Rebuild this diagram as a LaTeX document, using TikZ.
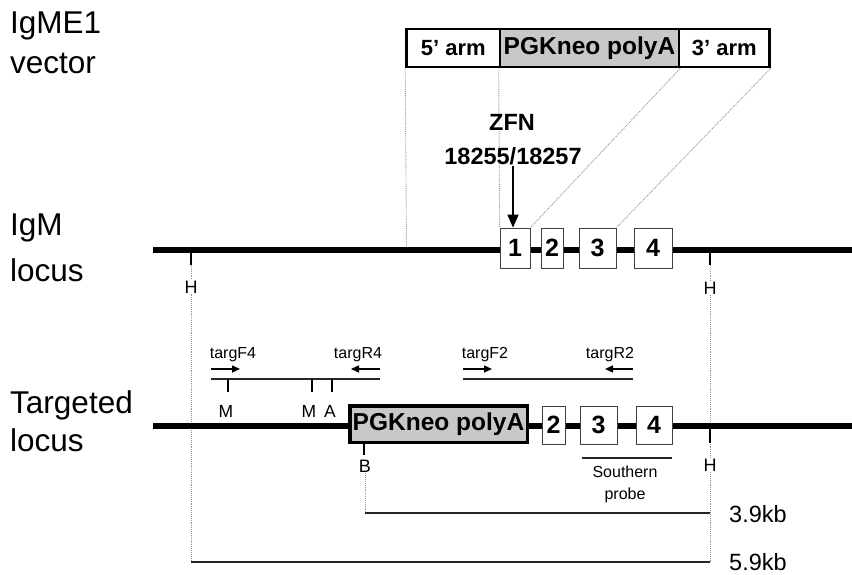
\documentclass[tikz,border=0pt]{standalone}
\usepackage{fontspec}
\setmainfont{Liberation Sans}
\usetikzlibrary{arrows.meta}
\definecolor{boxgray}{RGB}{200,200,200}
\definecolor{dotgray}{RGB}{150,150,150}
\tikzset{
  biglbl/.style={font=\fontsize{31.5}{34}\selectfont, anchor=base west, inner sep=0pt},
  boldlbl/.style={font=\fontsize{23.5}{26}\bfseries\selectfont, inner sep=0pt},
  smalllbl/.style={font=\fontsize{16}{18}\selectfont, inner sep=0pt},
  sitelbl/.style={font=\fontsize{18}{20}\selectfont, inner sep=1pt, fill=white},
  kblbl/.style={font=\fontsize{23.5}{26}\selectfont, inner sep=0pt, anchor=base west},
  locus/.style={line width=6pt},
  vecbox/.style={draw, line width=2.6pt, minimum height=38pt, inner sep=0pt, font=\fontsize{22}{24}\bfseries\selectfont},
  exon/.style={draw=black!75, line width=0.8pt, fill=white, inner sep=0pt, font=\fontsize{25}{28}\bfseries\selectfont},
  dotline/.style={dotgray, line width=0.9pt, densely dotted},
  tick/.style={line width=1.6pt},
  thinline/.style={line width=1.4pt, black!85},
  primer/.style={line width=1.3pt, -{Triangle[length=8pt,width=7pt]}},
  zfnarrow/.style={line width=1.6pt, -{Triangle[length=13pt,width=11pt]}}
}
\begin{document}
\begin{tikzpicture}[x=1pt,y=-1pt]
\useasboundingbox (0,0) rectangle (852,575);

% ---------- left labels ----------
\node[biglbl] (t1) at (10,34) {IgME1};
\node[biglbl] (t2) at (10,74) {vector};
\node[biglbl] (t3) at (10,236) {IgM};
\node[biglbl] (t4) at (10,281) {locus};
\node[biglbl] (t5) at (10,413) {Targeted};
\node[biglbl] (t6) at (10,451) {locus};

% ---------- vector ----------
\node[vecbox, minimum width=93.5pt] (arm5) at (453.25,48) {5’ arm};
\node[vecbox, minimum width=179pt, fill=boxgray, font=\fontsize{24.5}{27}\bfseries\selectfont] (pgk) at (589.5,48) {PGKneo polyA};
\node[vecbox, minimum width=90.5pt] (arm3) at (724.25,48) {3’ arm};

% ---------- IgM locus ----------
\coordinate (ia) at (153,249.5);
\coordinate (ib) at (852,249.5);
\draw[locus] (ia) -- (ib);
\node[exon, minimum width=30pt, minimum height=40pt] (e1) at (515,248) {1};
\node[exon, minimum width=22pt, minimum height=40pt] (e2) at (552,248) {2};
\node[exon, minimum width=37pt, minimum height=40pt] (e3) at (597.5,248) {3};
\node[exon, minimum width=38pt, minimum height=40pt] (e4) at (653,248) {4};

% dotted mapping lines
\coordinate (m5) at (406.5,247);
\draw[dotline] (arm5.south west) -- (m5);
\draw[dotline] (pgk.south west) -- (e1.north west);
\draw[dotline] (pgk.south east) -- (e1.north east);
\draw[dotline] (arm3.south east) -- (e3.north east);

% ZFN
\node[boldlbl, anchor=base] (zfn1) at (512,131) {ZFN};
\node[boldlbl, anchor=base] (zfn2) at (513,165) {18255/18257};
\draw[zfnarrow] (zfn2.south) -- (zfn2.south |- e1.north);

% H sites on IgM
\coordinate (h1t) at (191,252);
\coordinate (h1b) at (191,265);
\coordinate (h2t) at (710,252);
\coordinate (h2b) at (710,265);
\draw[tick] (h1t) -- (h1b);
\draw[tick] (h2t) -- (h2b);
\coordinate (h1e) at (191,562);
\coordinate (h2e) at (710,562);
\draw[dotline] (h1b) -- (h1e);
\draw[dotline] (h2b) -- (h2e);
\node[sitelbl] (hl1) at (191,287) {H};
\node[sitelbl] (hl2) at (710,288) {H};

% ---------- targeted locus ----------
\coordinate (ta) at (153,426);
\coordinate (tb) at (852,426);
\draw[locus] (ta) -- (tb);
\node[draw, line width=3.5pt, fill=boxgray, minimum width=177.5pt, minimum height=36.5pt, inner sep=0pt,
      font=\fontsize{24.5}{27}\bfseries\selectfont] (tpgk) at (438.5,424) {PGKneo polyA};
\node[exon, minimum width=23pt, minimum height=38pt] (f2) at (553.5,425) {2};
\node[exon, minimum width=37pt, minimum height=38pt] (f3) at (598.5,425) {3};
\node[exon, minimum width=36pt, minimum height=38pt] (f4) at (654,425) {4};

% H on targeted
\coordinate (h3t) at (710,429);
\coordinate (h3b) at (710,443);
\draw[tick] (h3t) -- (h3b);
\node[sitelbl] (hl3) at (710,465) {H};

% B site
\coordinate (bb) at (364,455);
\draw[tick] (tpgk.south -| bb) -- (bb);
\node[sitelbl] (bl) at (365,466) {B};
\coordinate (b39) at (365,513);
\draw[dotline] (bl.south) -- (b39);

% Southern probe
\coordinate (sp1) at (582,458);
\coordinate (sp2) at (672,458);
\draw[thinline, line width=1.2pt] (sp1) -- (sp2);
\node[smalllbl, anchor=base] (sp) at (625,477) {Southern};
\node[smalllbl, anchor=base] (pr) at (625,499) {probe};

% fragments
\coordinate (k39e) at (710,513);
\draw[thinline] (b39) -- (k39e);
\node[kblbl] (k39) at (729,522) {3.9kb};
\draw[thinline] (h1e) -- (h2e);
\node[kblbl] (k59) at (729,570) {5.9kb};

% ---------- primers ----------
\coordinate (pl1) at (211,379);
\coordinate (pl2) at (380,379);
\draw[thinline] (pl1) -- (pl2);
\coordinate (pr1) at (463,379);
\coordinate (pr2) at (633,379);
\draw[thinline] (pr1) -- (pr2);

% restriction ticks on amplicon
\coordinate (mt1) at (228,379); \coordinate (mb1) at (228,392);
\coordinate (mt2) at (312,379); \coordinate (mb2) at (312,392);
\coordinate (mt3) at (332,379); \coordinate (mb3) at (332,392);
\draw[tick] (mt1) -- (mb1);
\draw[tick] (mt2) -- (mb2);
\draw[tick] (mt3) -- (mb3);
\node[sitelbl, fill=none, font=\fontsize{17.5}{20}\selectfont] (ml1) at (226,411) {M};
\node[sitelbl, fill=none, font=\fontsize{17.5}{20}\selectfont] (ml2) at (309,411) {M};
\node[sitelbl, fill=none, font=\fontsize{17.5}{20}\selectfont] (al1) at (330,411) {A};

% primer labels and arrows
\node[smalllbl, anchor=base] (f4l) at (233,358) {targF4};
\node[smalllbl, anchor=base] (r4l) at (358,358) {targR4};
\node[smalllbl, anchor=base] (f2l) at (485,358) {targF2};
\node[smalllbl, anchor=base] (r2l) at (610,358) {targR2};
\coordinate (af4a) at (211,369); \coordinate (af4b) at (240,369);
\coordinate (ar4a) at (380,369); \coordinate (ar4b) at (351,369);
\coordinate (af2a) at (463,369); \coordinate (af2b) at (492,369);
\coordinate (ar2a) at (633,369); \coordinate (ar2b) at (605,369);
\draw[primer] (af4a) -- (af4b);
\draw[primer] (ar4a) -- (ar4b);
\draw[primer] (af2a) -- (af2b);
\draw[primer] (ar2a) -- (ar2b);
\end{tikzpicture}
\end{document}
